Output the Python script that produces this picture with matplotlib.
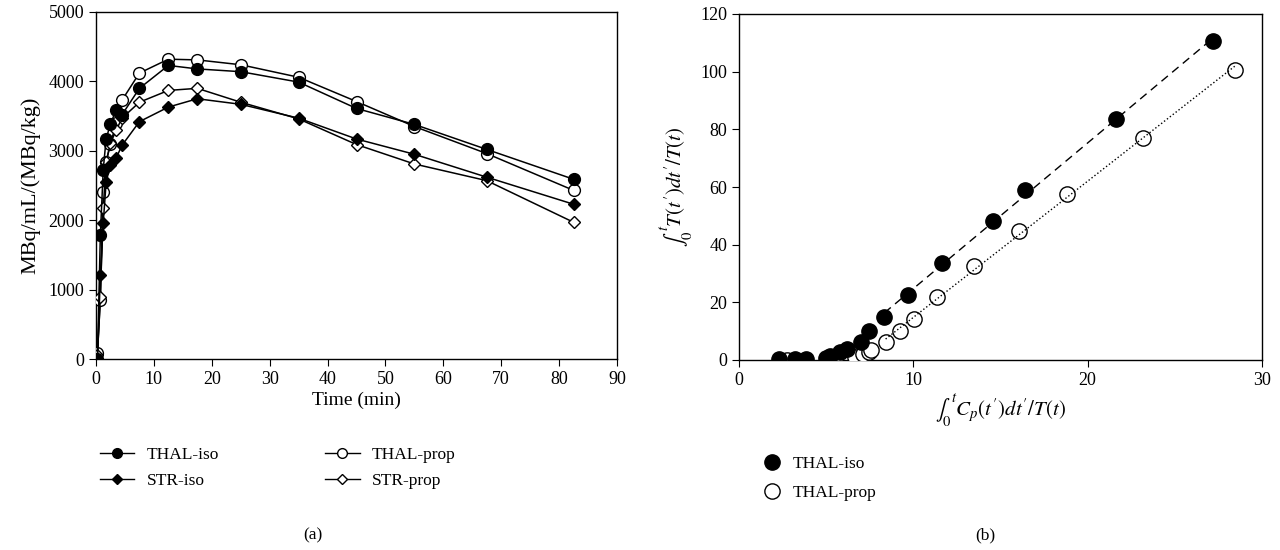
import numpy as np
import matplotlib
matplotlib.use("Agg")
import matplotlib.pyplot as plt
from matplotlib.lines import Line2D

plt.rcParams['font.family'] = ['Liberation Serif', 'DejaVu Serif']
plt.rcParams['mathtext.fontset'] = 'stix'

# ---- Panel (a) data ----
time_min = [0.25, 0.75, 1.25, 1.75, 2.5, 3.5, 4.5, 7.5, 12.5, 17.5, 25, 35, 45, 55, 67.5, 82.5]
thal_iso = [0, 1780, 2730, 3170, 3390, 3590, 3520, 3900, 4230, 4180, 4140, 3990, 3610, 3380, 3020, 2590]
thal_prop = [90, 850, 2400, 2840, 3100, 3400, 3730, 4120, 4320, 4310, 4240, 4060, 3710, 3350, 2960, 2430]
str_iso = [0, 1210, 1960, 2550, 2800, 2900, 3080, 3420, 3630, 3750, 3670, 3470, 3170, 2950, 2620, 2230]
str_prop = [60, 890, 2170, 2840, 3110, 3300, 3470, 3700, 3870, 3900, 3700, 3460, 3090, 2810, 2570, 1970]

# ---- Panel (b) data ----
b_iso_x = [2.31, 3.21, 3.84, 4.99, 5.22, 5.79, 6.17, 7.0, 7.46, 8.34, 9.7, 11.62, 14.59, 16.38, 21.6, 27.2]
b_iso_y = [0.2, 0.2, 0.5, 0.8, 1.4, 2.8, 3.7, 6.3, 10.2, 14.9, 22.6, 33.7, 48.2, 59.1, 83.5, 110.5]
b_prop_x = [2.73, 5.5, 6.65, 7.13, 7.46, 7.6, 8.41, 9.23, 10.06, 11.38, 13.49, 16.05, 18.8, 23.2, 28.46]
b_prop_y = [0.1, 0.3, 1.2, 2.0, 2.8, 3.5, 6.1, 10.1, 14.3, 21.9, 32.5, 44.7, 57.7, 77.0, 100.6]

fig = plt.figure(figsize=(12.8, 5.5), dpi=100)
fs_tick = 13
fs_lab = 14
fs_leg = 12.5

# Panel (a)
axa = fig.add_axes([96/1280, 1-359/550, (617-96)/1280, (359-12)/550])
lw = 1.1
axa.plot(time_min, thal_iso, '-', color='black', lw=lw, marker='o', ms=8.5,
         mfc='black', mec='black', zorder=4)
axa.plot(time_min, thal_prop, '-', color='black', lw=lw, marker='o', ms=8.5,
         mfc='white', mec='black', zorder=3)
axa.plot(time_min, str_iso, '-', color='black', lw=lw, marker='D', ms=6.5,
         mfc='black', mec='black', zorder=4)
axa.plot(time_min, str_prop, '-', color='black', lw=lw, marker='D', ms=6.5,
         mfc='white', mec='black', zorder=3)
axa.set_xlim(0, 90)
axa.set_ylim(0, 5000)
axa.set_xticks(range(0, 91, 10))
axa.set_yticks(range(0, 5001, 1000))
axa.tick_params(direction='out', length=5, labelsize=fs_tick, top=False, right=False)
axa.set_xlabel('Time (min)', fontsize=fs_lab, labelpad=3)
axa.set_ylabel('MBq/mL/(MBq/kg)', fontsize=16, labelpad=6)
for sp in axa.spines.values():
    sp.set_linewidth(1.0)

def lh(mk, fc, ms):
    return Line2D([], [], color='black', lw=1.0, marker=mk, ms=ms, mfc=fc, mec='black')

handles_a = [lh('o', 'black', 7), lh('D', 'black', 5.5), lh('o', 'white', 7), lh('D', 'white', 5.5)]
labels_a = ['THAL-iso', 'STR-iso', 'THAL-prop', 'STR-prop']
fig.legend(handles_a, labels_a, ncol=2, loc='upper left',
           bbox_to_anchor=(84/1280, 1-431/550), frameon=False, fontsize=fs_leg,
           handlelength=2.0, handletextpad=0.7, columnspacing=6.1, labelspacing=0.6)
fig.text(313/1280, 1-535/550, '(a)', fontsize=fs_leg, ha='center', va='center')

# Panel (b)
axb = fig.add_axes([739/1280, 1-360/550, (1262-739)/1280, (360-14)/550])
axb.plot(b_iso_x, b_iso_y, 'o', ms=11, mfc='black', mec='black', zorder=4)
axb.plot(b_prop_x, b_prop_y, 'o', ms=11, mfc='white', mec='black', mew=1.0, zorder=3)
# linear fits over the late (linear) part
xi = np.array(b_iso_x); yi = np.array(b_iso_y)
m = xi >= 8.3
p = np.polyfit(xi[m], yi[m], 1)
xx = np.array([xi[m].min(), xi[m].max()])
axb.plot(xx, np.polyval(p, xx), '--', color='black', lw=1.0, dashes=(6, 4), zorder=5)
xp = np.array(b_prop_x); yp = np.array(b_prop_y)
m2 = xp >= 8.4
p2 = np.polyfit(xp[m2], yp[m2], 1)
xx2 = np.array([xp[m2].min(), xp[m2].max()])
axb.plot(xx2, np.polyval(p2, xx2), ':', color='black', lw=1.0, zorder=5)
axb.set_xlim(0, 30)
axb.set_ylim(0, 120)
axb.set_xticks(range(0, 31, 10))
axb.set_yticks(range(0, 121, 20))
axb.tick_params(direction='out', length=5, labelsize=fs_tick, top=False, right=False)
axb.set_xlabel(r"$\int_0^{\,t} C_p(t^{\prime})dt^{\prime}/T(t)$", fontsize=15, labelpad=2)
axb.set_ylabel(r"$\int_0^{\,t} T(t^{\prime})dt^{\prime}/T(t)$", fontsize=15, labelpad=4)
for sp in axb.spines.values():
    sp.set_linewidth(1.0)

handles_b = [Line2D([], [], ls='none', marker='o', ms=11, mfc='black', mec='black'),
             Line2D([], [], ls='none', marker='o', ms=11, mfc='white', mec='black')]
fig.legend(handles_b, ['THAL-iso', 'THAL-prop'], loc='upper left',
           bbox_to_anchor=(746/1280, 1-440/550), frameon=False, fontsize=fs_leg,
           handlelength=1.2, handletextpad=0.6, labelspacing=0.75)
fig.text(985/1280, 1-535/550, '(b)', fontsize=fs_leg, ha='center', va='center')

fig.savefig('out.png', dpi=100)
